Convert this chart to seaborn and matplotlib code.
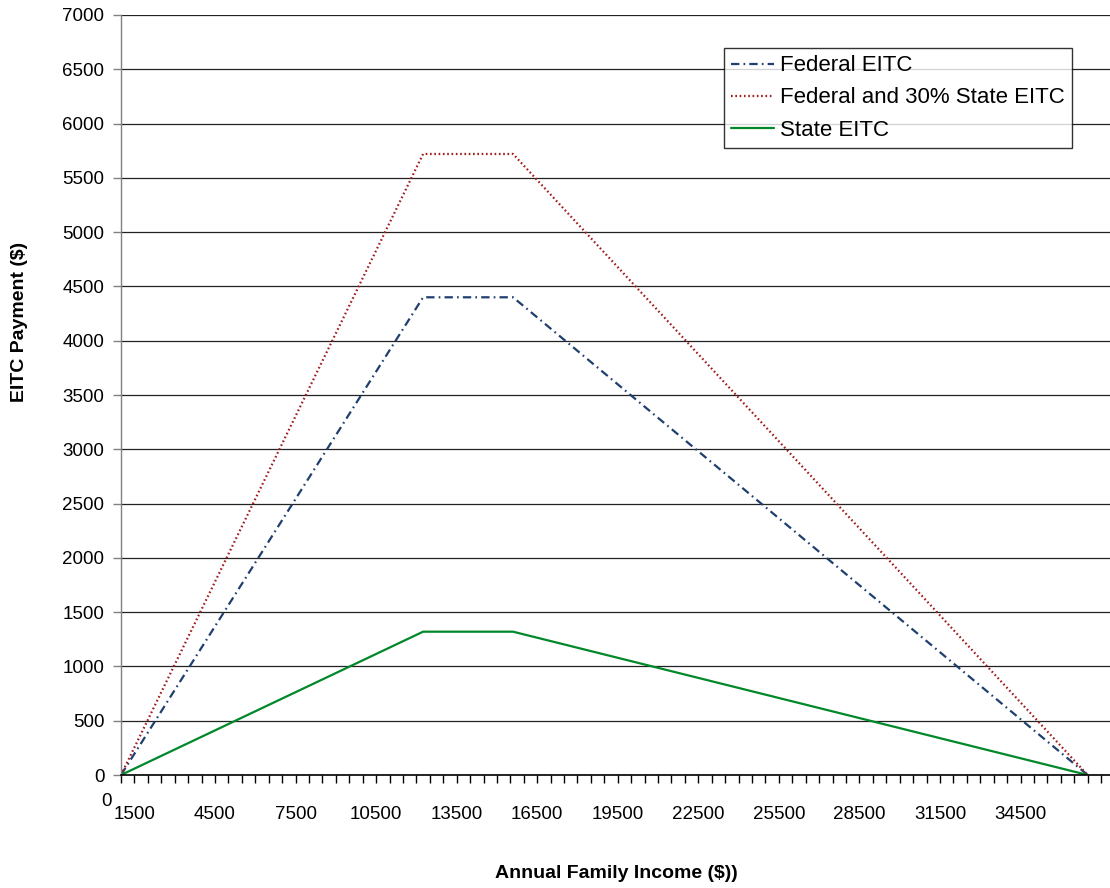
import numpy as np
import pandas as pd
import matplotlib
matplotlib.use('Agg')
import matplotlib.pyplot as plt
import seaborn as sns

# income break points (axis units) and payments
income = [1000, 12250, 15600, 37000]
federal = [0, 4400, 4400, 0]
fed_state = [0, 5720, 5720, 0]
state = [0, 1320, 1320, 0]

series_names = ['Federal EITC', 'Federal and 30% State EITC', 'State EITC']
colors = {'Federal EITC': '#1F3F6E',
          'Federal and 30% State EITC': '#A11D1D',
          'State EITC': '#00882A'}

x_labels = [str(v) for v in range(1500, 35000, 3000)]

df = pd.concat([
    pd.DataFrame({'income': income, 'pay': federal, 'series': series_names[0]}),
    pd.DataFrame({'income': income, 'pay': fed_state, 'series': series_names[1]}),
    pd.DataFrame({'income': income, 'pay': state, 'series': series_names[2]}),
])

sns.set_style('white')
plt.rcParams['font.family'] = ['Liberation Sans', 'DejaVu Sans']
plt.rcParams['lines.scale_dashes'] = False
plt.rcParams['text.color'] = 'black'

fig = plt.figure(figsize=(11.1, 8.88), dpi=100)
ax = fig.add_axes([121 / 1110, 1 - 775 / 888, 1 - 121 / 1110, (775 - 15) / 888])

dashes = {'Federal EITC': (6, 3, 1.2, 3),
          'Federal and 30% State EITC': (1.2, 1.9),
          'State EITC': ''}
sns.lineplot(data=df, x='income', y='pay', hue='series', style='series',
             palette=colors, dashes=dashes, hue_order=series_names,
             style_order=series_names, linewidth=1.6, ax=ax, legend=False,
             estimator=None, sort=False)

ax.set_xlim(1000, 1000 + 500 * (1110 - 121) / 13.426)
ax.set_ylim(0, 7000)

ax.set_yticks(np.arange(0, 7001, 500))
ax.yaxis.grid(True, color='#222222', linewidth=0.9)
ax.tick_params(axis='y', labelsize=13.5, length=6, width=1, color='#808080',
               direction='out', left=True, pad=6, labelcolor='black')

ax.set_xticks(np.arange(1500, 35000, 3000))
ax.set_xticklabels(x_labels)
ax.set_xticks(np.arange(1000, 38000, 500), minor=True)
ax.tick_params(axis='x', which='both', length=6, width=1, color='black',
               direction='out', bottom=True)
ax.tick_params(axis='x', which='major', labelsize=13.5, pad=16,
               labelcolor='black')

for s in ['top', 'right']:
    ax.spines[s].set_visible(False)
ax.spines['left'].set_color('#808080')
ax.spines['bottom'].set_color('black')
ax.spines['left'].set_linewidth(1)
ax.spines['bottom'].set_linewidth(1.2)

ax.set_xlabel('')
ax.set_ylabel('')
fig.text(616 / 1110, 1 - 873 / 888, 'Annual Family Income ($))', ha='center',
         va='center', fontsize=14, fontweight='bold')
fig.text(20 / 1110, 1 - 322 / 888, 'EITC Payment ($)', ha='center',
         va='center', rotation=90, fontsize=14, fontweight='bold')
fig.text(107 / 1110, 1 - 801 / 888, '0', ha='center', va='center',
         fontsize=13.5)

handles = [ax.lines[i] for i in range(3)]
leg = ax.legend(handles, series_names, loc='upper left',
                bbox_to_anchor=(724 / 1110, 1 - 48 / 888),
                bbox_transform=fig.transFigure, fontsize=16,
                frameon=True, fancybox=False, handlelength=1.9,
                handletextpad=0.3, borderpad=0.33, labelspacing=0.5,
                borderaxespad=0)
leg.get_frame().set_edgecolor('black')
leg.get_frame().set_linewidth(1)

fig.savefig('out.png', dpi=100)
